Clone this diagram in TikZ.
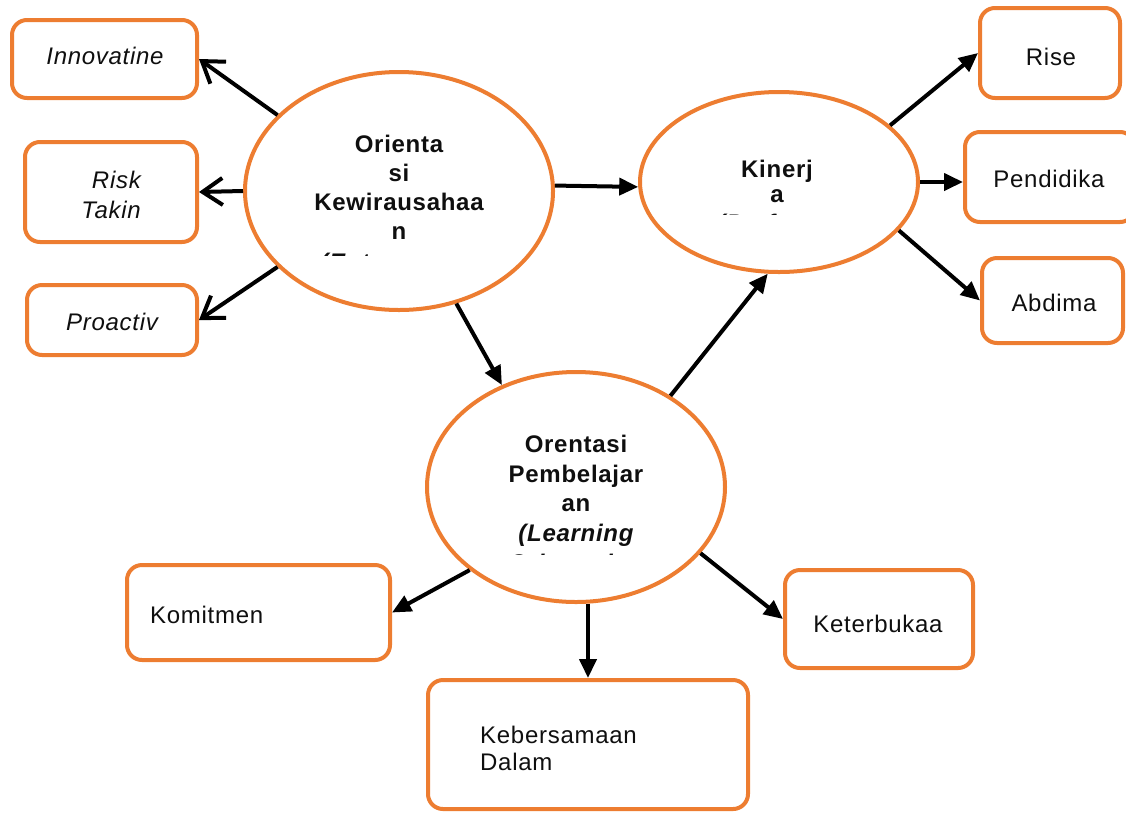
\documentclass[tikz,border=0pt]{standalone}
\usepackage{fontspec}
\setmainfont{Liberation Sans}[LetterSpace=3]
\usetikzlibrary{arrows.meta,shapes.geometric}
\definecolor{org}{RGB}{237,125,49}
\definecolor{ink}{RGB}{15,15,15}
\begin{document}
\begin{tikzpicture}[x=1pt,y=-1pt,
  box/.style={draw=org,line width=4pt,rounded corners=15pt,fill=white,inner sep=0pt},
  oval/.style={draw=org,line width=4pt,ellipse,fill=white,inner sep=0pt},
  bt/.style={font=\fontsize{24}{29}\selectfont\bfseries,text=ink,inner sep=0pt,anchor=base},
  bit/.style={font=\fontsize{24}{29}\selectfont\bfseries\itshape,text=ink,inner sep=0pt,anchor=base},
  rt/.style={font=\fontsize{24}{29}\selectfont,text=ink,inner sep=0pt,anchor=base},
  it/.style={font=\fontsize{24}{29}\selectfont\itshape,text=ink,inner sep=0pt,anchor=base},
  arr/.style={line width=4pt,draw=black,-{Triangle[length=19pt,width=17pt]}},
  barb/.style={line width=4pt,draw=black,-{Straight Barb[length=20pt,width=27pt]}}]
\useasboundingbox (0,0) rectangle (1126,812);

% ellipses
\node[oval,minimum width=308pt,minimum height=238pt] (e1) at (399,191) {};
\node[oval,minimum width=278pt,minimum height=180pt] (kin) at (779,182) {};
\node[oval,minimum width=298pt,minimum height=230pt] (e3) at (576,487) {};

% boxes
\node[box,minimum width=185pt,minimum height=78pt] (inn) at (104.5,59) {};
\node[box,minimum width=172pt,minimum height=100pt] (risk) at (111,192) {};
\node[box,minimum width=170pt,minimum height=70pt] (pro) at (112,320) {};
\node[box,minimum width=140pt,minimum height=90pt] (rise) at (1050,53) {};
\node[box,minimum width=170pt,minimum height=90pt] (pend) at (1050,177) {};
\node[box,minimum width=141pt,minimum height=85pt] (abd) at (1052.5,300.5) {};
\node[box,minimum width=263pt,minimum height=95pt] (kom) at (258.5,612.5) {};
\node[box,minimum width=320pt,minimum height=129pt] (keb) at (588,744.5) {};
\node[box,minimum width=188pt,minimum height=98pt] (ket) at (879,619) {};

% ellipse texts
\node[bt] (e1a) at (399,152) {Orienta};
\node[bt] (e1b) at (399,181) {si};
\node[bt] (e1c) at (399,210) {Kewirausahaa};
\node[bt] (e1d) at (399,239) {n};
\begin{scope}
  \clip (300,240) rectangle (500,255.5);
  \node[bit] (e1e) at (399,270) {(Entrepreneu};
\end{scope}
\node[bt] (k1) at (777,177) {Kinerj};
\node[bt] (k2) at (777,202) {a};
\begin{scope}
  \clip (690,206) rectangle (860,214.5);
  \node[bit] (k3) at (777,231) {(Performa};
\end{scope}
\node[bt] (p1) at (576,452) {Orentasi};
\node[bt] (p2) at (576,482) {Pembelajar};
\node[bt] (p3) at (576,511) {an};
\node[bit] (p4) at (576,541) {(Learning};
\begin{scope}
  \clip (480,547) rectangle (680,554.5);
  \node[bit] (p5) at (576,571) {Orientation};
\end{scope}

% box texts
\node[it] (tinn) at (105,64) {Innovatine};
\node[it,anchor=base east] (trisk1) at (141,188) {Risk};
\node[it,anchor=base east] (trisk2) at (141,218) {Takin};
\node[it] (tpro) at (112,330) {Proactiv};
\node[rt] (trise) at (1051,65) {Rise};
\node[rt] (tpend) at (1049,187) {Pendidika};
\node[rt] (tabd) at (1054,311) {Abdima};
\node[rt,anchor=base west] (tkom) at (150,623) {Komitmen};
\node[rt,anchor=base west] (tkeb1) at (480,743) {Kebersamaan};
\node[rt,anchor=base west] (tkeb2) at (480,770) {Dalam};
\node[rt] (tket) at (878,632) {Keterbukaa};

% connectors
\draw[barb] (e1.148.9) -- (inn.east);
\draw[barb] (e1.180) -- (risk.east);
\draw[barb] (e1.212.7) -- (pro.east);
\draw[arr] (e1.2) -- (kin.182);
\draw[arr] (e1.297) -- (e3.126.6);
\draw[arr] (e3.44.4) -- (kin.263);
\draw[arr] (kin.27.6) -- (rise.west);
\draw[arr] (kin.east) -- (kin.east -| pend.west);
\draw[arr] (kin.338.4) -- (abd.west);
\draw[arr] (e3.218) -- (kom.east);
\draw[arr] (keb.north |- e3.south) -- (keb.north);
\draw[arr] (e3.332.5) -- (ket.west);
\end{tikzpicture}
\end{document}
